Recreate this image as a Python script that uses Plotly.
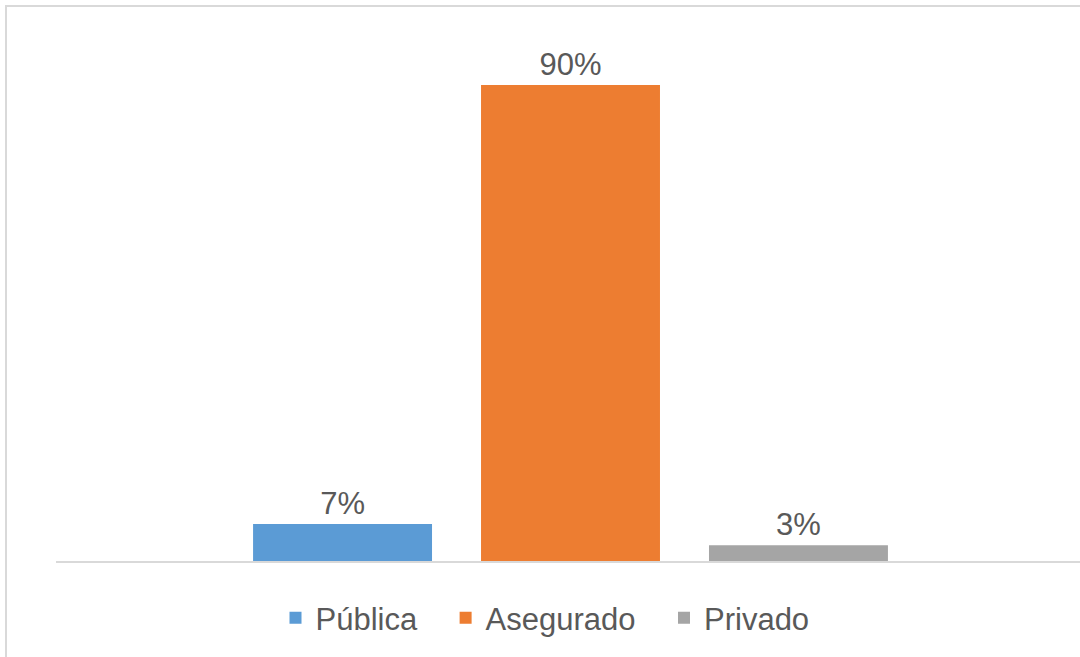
import plotly.graph_objects as go

categories = ["Pública", "Asegurado", "Privado"]
values = [7, 90, 3]
colors = ["#5B9BD5", "#ED7D31", "#A5A5A5"]

PAD = "\u00a0\u00a0\u2009"
fig = go.Figure()
for i, (cat, val, col) in enumerate(zip(categories, values, colors)):
    fig.add_trace(go.Bar(
        x=[cat], y=[val], name=cat + (PAD if i < len(categories) - 1 else ""),
        marker=dict(color=col, line=dict(width=0)),
        width=0.785,
        texttemplate="%{y}%", textposition="outside",
        textfont=dict(family="Liberation Sans, Arial", size=31, color="#595959"),
        cliponaxis=False,
    ))

W, H = 1080, 657
ml, mr, mt, mb = 56, 0, 10, 96
ph = H - mt - mb
pw = W - ml - mr

fig.update_layout(
    width=W, height=H,
    margin=dict(l=ml, r=mr, t=mt, b=mb),
    paper_bgcolor="white", plot_bgcolor="white",
    barmode="overlay",
    showlegend=True,
    legend=dict(orientation="h", x=(545 - ml) / pw, xanchor="center",
                y=-(618 - 561) / ph, yanchor="middle",
                font=dict(family="Liberation Sans, Arial", size=31, color="#595959"),
                traceorder="normal"),
    xaxis=dict(range=[-1.257, 3.235], showticklabels=False, showgrid=False,
               zeroline=False, showline=True, linecolor="#D9D9D9", linewidth=2,
               ticks=""),
    yaxis=dict(range=[0, ph / 5.289], showticklabels=False, showgrid=False,
               zeroline=False, showline=False, ticks=""),
    shapes=[dict(type="rect", xref="paper", yref="paper",
                 x0=(6 - ml) / pw, x1=1.1, y0=-0.5, y1=1 + (mt - 6) / ph,
                 line=dict(color="#D9D9D9", width=2), fillcolor="rgba(0,0,0,0)",
                 layer="below")],
)

fig.write_html("out.html", config={"displayModeBar": False},
               post_script="document.body.style.margin='0';")
